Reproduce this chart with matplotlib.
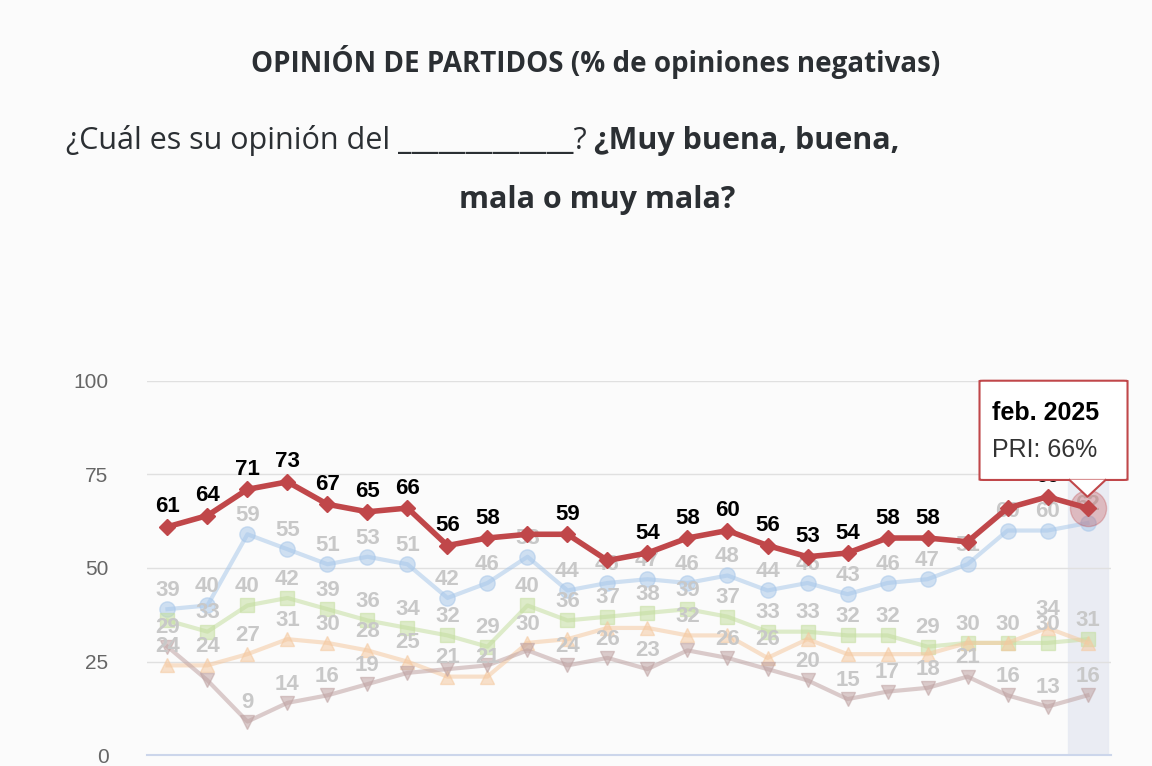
import numpy as np
import matplotlib.pyplot as plt
from matplotlib.patches import FancyBboxPatch, Polygon

# =========================================================
# DATA
# =========================================================
pri = [61, 64, 71, 73, 67, 65, 66, 56, 58, 59, 59, 52, 54, 58, 60, 56, 53, 54, 58, 58, 57, 66, 69, 66]
pan = [39, 40, 59, 55, 51, 53, 51, 42, 46, 53, 44, 46, 47, 46, 48, 44, 46, 43, 46, 47, 51, 60, 60, 62]
prd = [36, 33, 40, 42, 39, 36, 34, 32, 29, 40, 36, 37, 38, 39, 37, 33, 33, 32, 32, 29, 30, 30, 30, 31]
mc = [24, 24, 27, 31, 30, 28, 25, 21, 21, 30, 31, 34, 34, 32, 32, 26, 31, 27, 27, 27, 30, 30, 34, 30]
pt = [29, 20, 9, 14, 16, 19, 22, 23, 24, 28, 24, 26, 23, 28, 26, 23, 20, 15, 17, 18, 21, 16, 13, 16]
y_ticks = [0, 25, 50, 75, 100]

# labels the chart actually shows (others are hidden by overlap)
pri_hidden = {9, 11, 20, 21, 23}
pan_shown = set(range(24))
prd_shown = set(range(1, 24)) - {20, 21}
mc_shown = set(range(10)) | {13, 15, 20, 21, 22}
pt_shown = {0, 2, 3, 4, 5, 10, 11, 12, 14, 16, 17, 18, 19, 20, 21, 22, 23}

plt.rcParams['font.family'] = ['Liberation Sans', 'DejaVu Sans']
fig = plt.figure(figsize=(11.52, 7.66), dpi=100, facecolor="#fbfbfb")
ax = fig.add_axes([0.128, 0.014, 0.836, 0.489])
ax.set_facecolor("#fbfbfb")
x = np.arange(len(pri))

faded = [
    (pan, pan_shown, "#a9c8ea", "o", 11),
    (prd, prd_shown, "#c5dea0", "s", 10),
    (mc, mc_shown, "#f5c9a0", "^", 10),
    (pt, pt_shown, "#bfa3a3", "v", 10),
]
for vals, shown, col, mk, ms in faded:
    ax.plot(x, vals, color=col, lw=3, marker=mk, ms=ms, alpha=0.55, zorder=2)
    for xi, v in zip(x, vals):
        if xi in shown:
            ax.text(xi, v + 2.2, str(v), ha="center", va="bottom", fontsize=16,
                    color="#c8c8c8", fontweight="bold", zorder=3)

ax.axvspan(22.5, 23.5, color="#e6e9f2", alpha=0.8, zorder=0)
ax.plot(x, pri, color="#c0474a", lw=4, marker="D", ms=8, zorder=5)
ax.plot(x[-1], pri[-1], "o", ms=26, color="#c0474a", alpha=0.3, zorder=4)
for xi, v in zip(x, pri):
    if xi in pri_hidden:
        continue
    ax.text(xi, v + 2.5, str(v), ha="center", va="bottom", fontsize=16,
            fontweight="bold", color="black", zorder=6)

ax.set_xlim(-0.5, 23.575)
ax.set_ylim(0, 100)
ax.set_yticks(y_ticks)
ax.tick_params(axis="y", length=0, labelsize=15, labelcolor="#666666", pad=28)
ax.set_xticks([])
ax.grid(axis="y", color="#e0e0e0", lw=1)
for s in ["top", "right", "left"]:
    ax.spines[s].set_visible(False)
ax.spines["bottom"].set_color("#ccd6eb")
ax.spines["bottom"].set_linewidth(1.5)

# tooltip
box = FancyBboxPatch((20.3, 73.5), 3.7, 26.5, boxstyle="round,pad=0,rounding_size=0.1",
                     fc="white", ec="#c0474a", lw=1.5, zorder=7, clip_on=False)
ax.add_patch(box)
ax.add_patch(Polygon([[22.55, 73.6], [23.45, 73.6], [23.0, 69.0]], closed=True,
                     fc="white", ec="none", zorder=8, clip_on=False))
ax.plot([22.55, 23.0, 23.45], [73.5, 69.0, 73.5], color="#c0474a", lw=1.5, zorder=8,
        clip_on=False)
ax.text(20.6, 91.5, "feb. 2025", fontsize=18, fontweight="bold", va="center", zorder=9)
ax.text(20.6, 81.5, "PRI: 66%", fontsize=18, color="#333333", va="center", zorder=9)

fig.text(0.517, 0.906, "OPINIÓN DE PARTIDOS (% de opiniones negativas)", ha="center",
         fontsize=20, fontweight="bold", color="#2b2f33", family=["Open Sans", "DejaVu Sans"])
t1 = fig.text(0.057, 0.805, "¿Cuál es su opinión del _____________? ", fontsize=22,
              color="#2b2f33", ha="left", family=["Open Sans", "DejaVu Sans"])
fig.text(1.0, 0.0, "¿Muy buena, buena,", fontsize=22, fontweight="bold", color="#2b2f33",
         ha="left", va="baseline", transform=t1.get_transform(),
         family=["Open Sans", "DejaVu Sans"]) if False else None
ax.annotate("¿Muy buena, buena,", xy=(1, 0), xycoords=t1, ha="left", va="bottom",
            fontsize=22, fontweight="bold", color="#2b2f33",
            family=["Open Sans", "DejaVu Sans"], annotation_clip=False)
fig.text(0.518, 0.728, "mala o muy mala?", fontsize=22, fontweight="bold",
         color="#2b2f33", ha="center", family=["Open Sans", "DejaVu Sans"])

fig.savefig("out.png", dpi=100, facecolor=fig.get_facecolor())
